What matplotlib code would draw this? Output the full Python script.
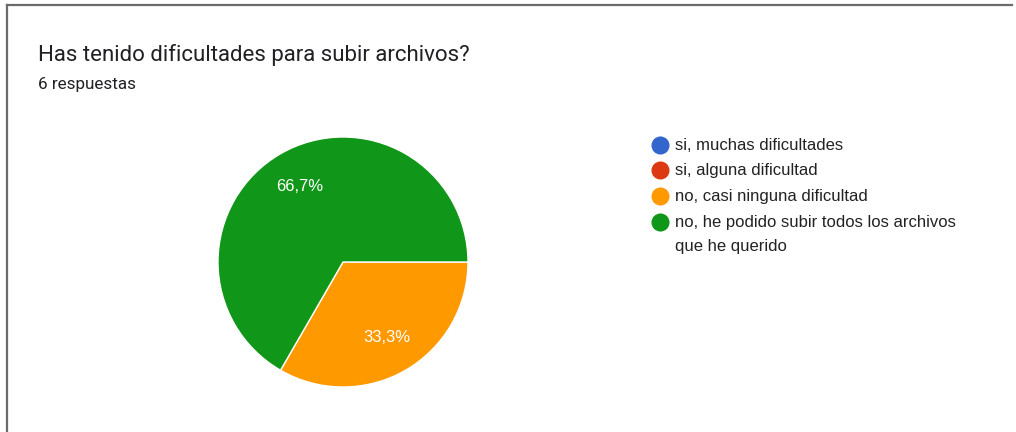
import matplotlib
matplotlib.use("Agg")
import matplotlib.pyplot as plt
from matplotlib.lines import Line2D

# Survey data
title = "Has tenido dificultades para subir archivos?"
subtitle = "6 respuestas"
categories = [
    "si, muchas dificultades",
    "si, alguna dificultad",
    "no, casi ninguna dificultad",
    "no, he podido subir todos los archivos\nque he querido",
]
counts = [0, 0, 2, 4]
colors = ["#3366cc", "#dc3912", "#ff9900", "#109618"]

W, H = 1016, 432
fig = plt.figure(figsize=(W / 100, H / 100), dpi=100)
fig.patch.set_facecolor("white")


def fx(px):
    return px / W


def fy(py):
    return 1 - py / H


# Card border (left and top edges)
fig.add_artist(Line2D([fx(7), fx(7)], [fy(5), fy(432)], color="#6b6b6b", lw=1.6))
fig.add_artist(Line2D([fx(7), fx(1012)], [fy(5), fy(5)], color="#6b6b6b", lw=1.6))

# Titles
fig.text(fx(38), fy(55), title, fontsize=16.0, family="Roboto",
         color="#202124", va="center", ha="left")
fig.text(fx(38), fy(84), subtitle, fontsize=12.3, family="Roboto",
         color="#202124", va="center", ha="left")

# Pie chart
cx, cy, r = 343, 262, 125
ax = fig.add_axes([fx(cx - r), fy(cy + r), (2 * r) / W, (2 * r) / H])
wedges, texts, autotexts = ax.pie(
    counts, colors=colors, startangle=0, counterclock=False,
    autopct=lambda p: (f"{p:.1f}%".replace(".", ",") if p > 0 else ""),
    pctdistance=0.7, radius=1,
    wedgeprops=dict(edgecolor="white", linewidth=1.0),
    textprops=dict(color="white", fontsize=12.0, family="Liberation Sans"),
)
ax.set_xlim(-1, 1)
ax.set_ylim(-1, 1)
ax.set_aspect("equal")
ax.axis("off")

# Legend
lx_dot, lx_text = 660, 675
ly = [145, 170, 196, 222]
for y, label, c in zip(ly, categories, colors):
    fig.add_artist(Line2D([fx(lx_dot)], [fy(y)], marker="o", markersize=12,
                          markerfacecolor=c, markeredgecolor=c, lw=0))
    if "\n" in label:
        fig.text(fx(lx_text), fy(y - 7), label, fontsize=12.0,
                 family="Liberation Sans", color="#222222", va="top",
                 ha="left", linespacing=1.78)
    else:
        fig.text(fx(lx_text), fy(y), label, fontsize=12.0,
                 family="Liberation Sans", color="#222222", va="center",
                 ha="left")

fig.savefig("out.png", dpi=100, facecolor="white")
